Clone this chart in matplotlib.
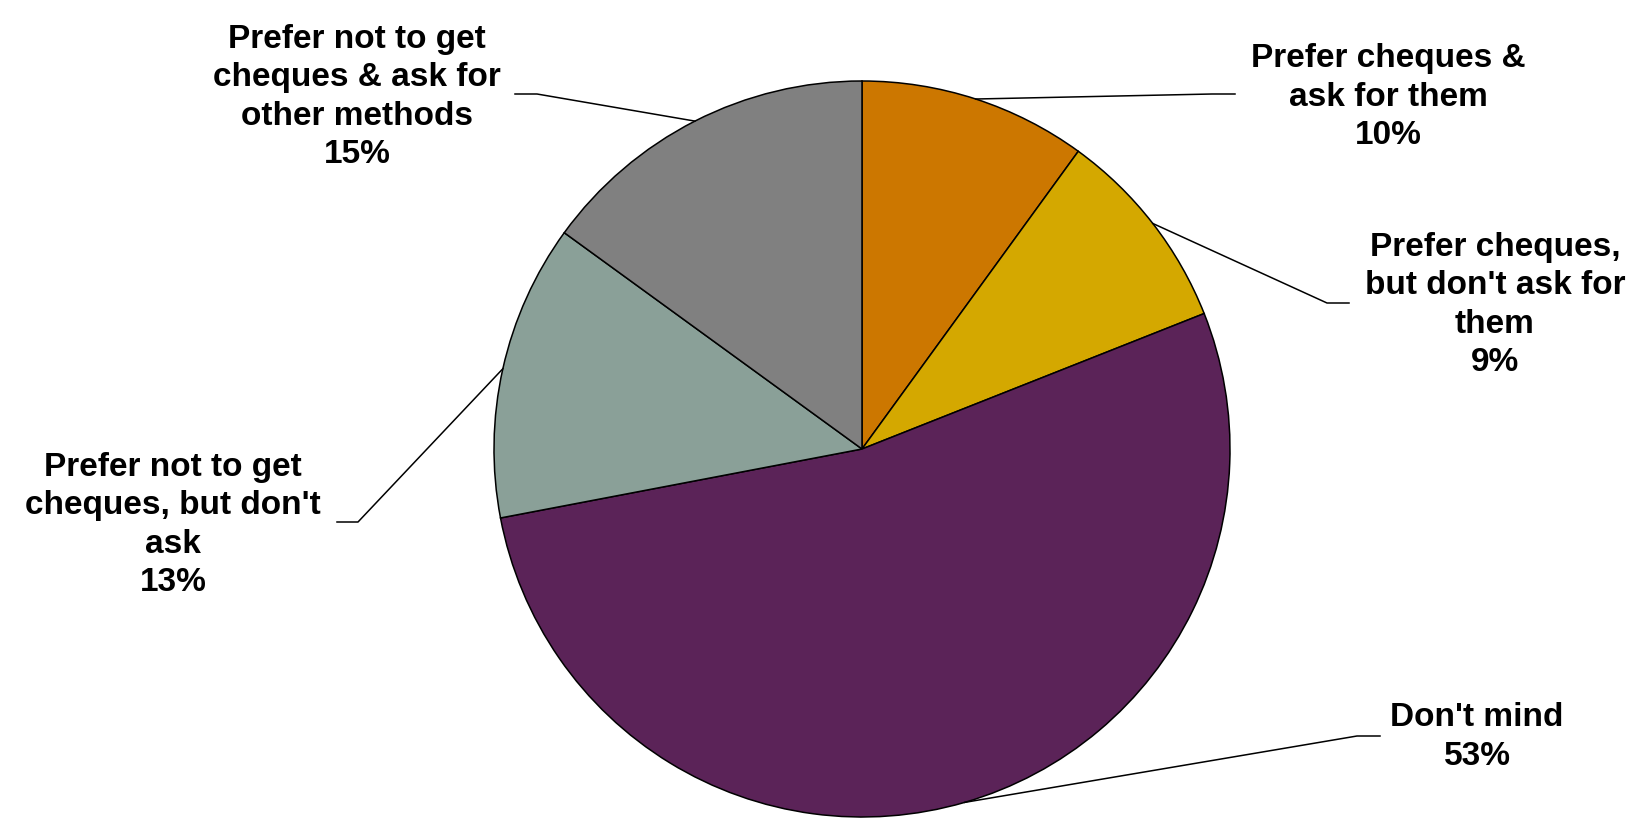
import matplotlib
matplotlib.use('Agg')
import matplotlib.pyplot as plt
import numpy as np

labels = ["Prefer cheques &\nask for them", "Prefer cheques,\nbut don't ask for\nthem",
          "Don't mind", "Prefer not to get\ncheques, but don't\nask",
          "Prefer not to get\ncheques & ask for\nother methods"]
shares = [10, 9, 53, 13, 15]
colors = ['#CC7700', '#D4A800', '#5B2358', '#8AA098', '#808080']

# label text centre / elbow / end of leader (pixels, y measured from top)
text_pos = [(1388, 97), (1495, 305), (1477, 737), (173, 525), (357, 97)]
elbows = [(1212, 94), (1327, 303), (1357, 736), (358, 522), (537, 94)]
ends = [(1235, 94), (1349, 303), (1380, 736), (337, 522), (515, 94)]

W, H = 1645, 818
cx, cy, r = 862, 449, 368

fig = plt.figure(figsize=(W / 100, H / 100), dpi=100, facecolor='white')
ax = fig.add_axes([0, 0, 1, 1])

wedges, _ = ax.pie(shares, colors=colors, startangle=90, counterclock=False,
                   center=(cx, H - cy), radius=r, frame=True,
                   wedgeprops=dict(edgecolor='black', linewidth=1.1))
ax.set_xlim(0, W)
ax.set_ylim(0, H)
ax.set_aspect('equal')
ax.axis('off')

for w, lab, val, tp, el, en in zip(wedges, labels, shares, text_pos, elbows, ends):
    mid = np.deg2rad((w.theta1 + w.theta2) / 2)
    sx = cx + r * np.cos(mid)
    sy = (H - cy) + r * np.sin(mid)
    ax.plot([sx, el[0], en[0]], [sy, H - el[1], H - en[1]], color='black', lw=1.1)
    ax.text(tp[0], H - tp[1], f'{lab}\n{val}%', ha='center', va='center',
            fontsize=24, fontweight='bold', family='Liberation Sans',
            linespacing=1.3)

fig.savefig('out.png', dpi=100, facecolor='white')
